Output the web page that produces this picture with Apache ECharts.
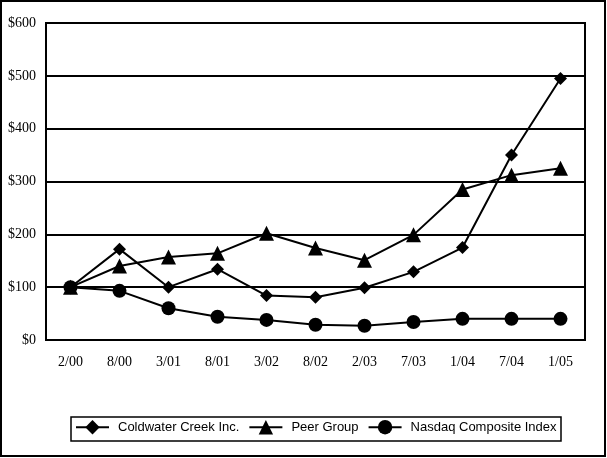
<!DOCTYPE html>
<html><head><meta charset="utf-8">
<script src="https://cdn.jsdelivr.net/npm/echarts@6/dist/echarts.min.js"></script>
<style>html,body{margin:0;padding:0;background:#fff}#c{width:607px;height:458px}</style>
</head><body><div id="c"></div>
<script>
const categories = ['2/00','8/00','3/01','8/01','3/02','8/02','2/03','7/03','1/04','7/04','1/05'];
const coldwater = [100,172,100,134,84,81,99,129,175,350,495];
const peerGroup = [100,140,157,164,202,174,151,199,285,312,325];
const nasdaq = [100,93,60,44,38,29,27,34,40,40,40];
const yTicks = [0,100,200,300,400,500,600];

const chart = echarts.init(document.getElementById('c'));
const serif = '"Liberation Serif","Times New Roman",serif';
const sans = '"Liberation Sans",Arial,sans-serif';
function mk(name, data, symbol, size){
  return {name, type:'line', data, symbol, symbolSize:size, showAllSymbol:true,
    lineStyle:{color:'#000',width:2}, itemStyle:{color:'#000',borderWidth:0}, z:3, animation:false};
}
chart.setOption({
  animation:false,
  backgroundColor:'#fff',
  grid:{left:46,right:22,top:23,bottom:118,show:true,borderColor:'#000',borderWidth:2,backgroundColor:'transparent'},
  xAxis:{type:'category',data:categories,boundaryGap:true,
    axisLine:{show:true,lineStyle:{color:'#000',width:2}},axisTick:{show:false},
    axisLabel:{color:'#000',fontFamily:serif,fontSize:14,margin:15}},
  yAxis:{type:'value',min:0,max:600,interval:100,
    axisLine:{show:true,lineStyle:{color:'#000',width:2}},axisTick:{show:false},
    splitLine:{show:true,lineStyle:{color:'#000',width:2}},
    axisLabel:{color:'#000',fontFamily:serif,fontSize:14,margin:10,
      formatter:v=>yTicks.includes(v)?'$'+v:''}},
  legend:{left:75,top:420,itemWidth:33,itemHeight:18,itemGap:9,padding:0,
    textStyle:{color:'#000',fontFamily:sans,fontSize:13,padding:[0,0,0,4]},
    data:['Coldwater Creek Inc.','Peer Group','Nasdaq Composite Index']},
  graphic:[
    {type:'rect',shape:{x:1,y:1,width:604,height:455},style:{fill:'none',stroke:'#000',lineWidth:2},silent:true},
    {type:'rect',shape:{x:71,y:417,width:490,height:24},style:{fill:'none',stroke:'#000',lineWidth:1.5},silent:true}
  ],
  series:[
    mk('Coldwater Creek Inc.',coldwater,'diamond',13),
    mk('Peer Group',peerGroup,'triangle',15),
    mk('Nasdaq Composite Index',nasdaq,'circle',14)
  ]
});
</script></body></html>
